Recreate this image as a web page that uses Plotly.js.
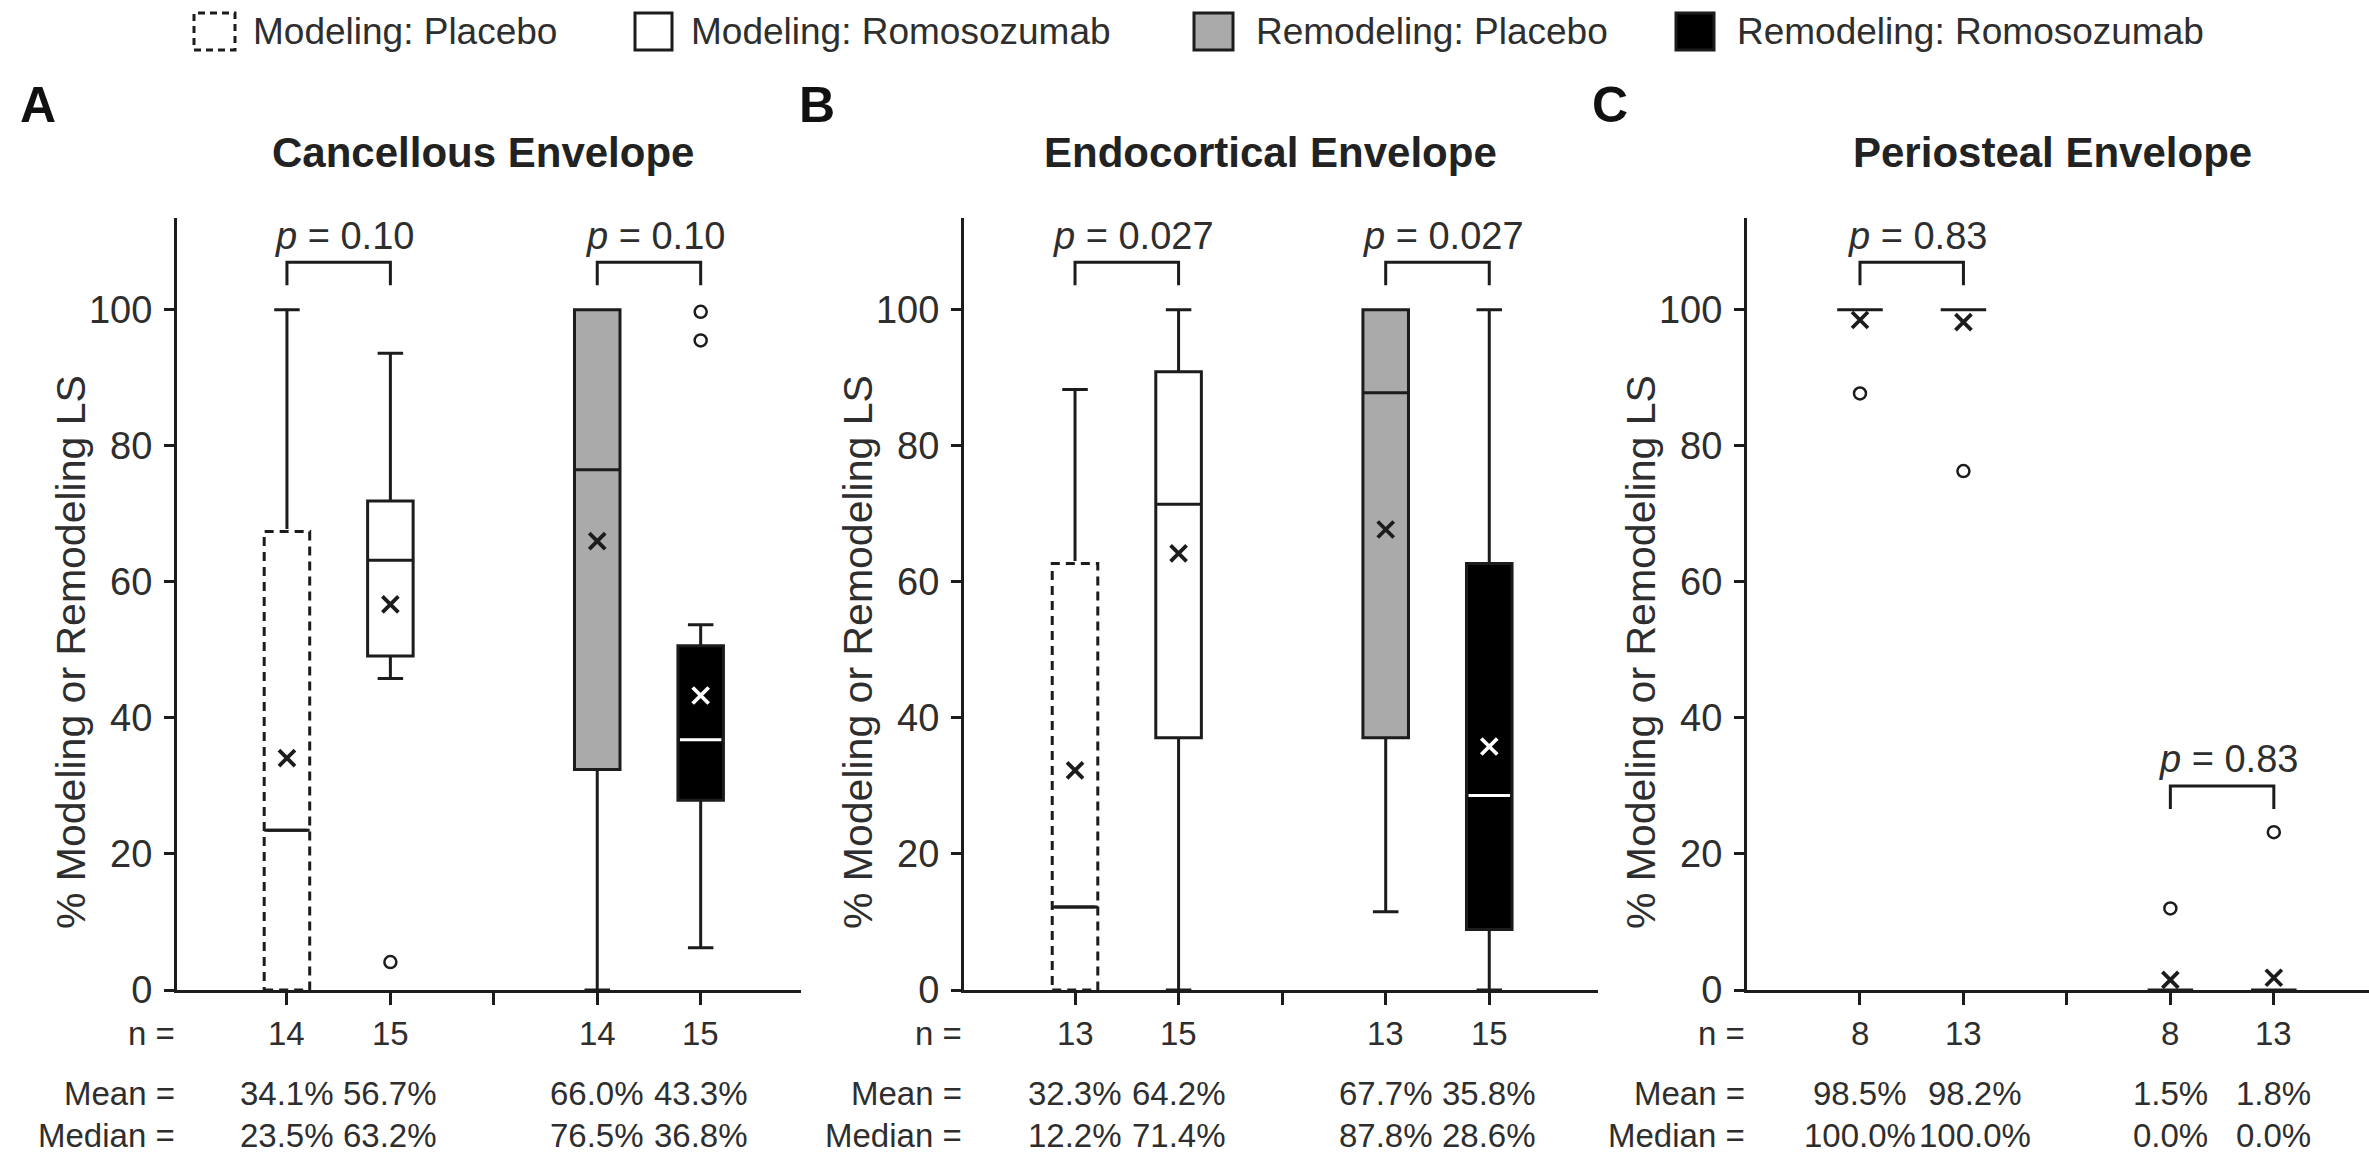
<!DOCTYPE html>
<html><head><meta charset="utf-8">
<script src="https://cdn.plot.ly/plotly-3.0.1.min.js"></script>
<style>html,body{margin:0;padding:0;background:#fff}</style>
</head><body><div id="chart" style="width:2369px;height:1155px"></div>
<script>
// ---------- DATA ----------
const positions = [1, 2, 4, 5];
const groupNames = ["Modeling: Placebo", "Modeling: Romosozumab", "Remodeling: Placebo", "Remodeling: Romosozumab"];
const panelLetters = ["A", "B", "C"];
const panelTitles = ["Cancellous Envelope", "Endocortical Envelope", "Periosteal Envelope"];
const yTickVals = [0, 20, 40, 60, 80, 100];
const yTitle = "% Modeling or Remodeling LS";
const rowLabels = ["n =", "Mean =", "Median ="];

// Panel A - Cancellous
const nA = [14, 15, 14, 15];
const meanA = [34.1, 56.7, 66.0, 43.3];
const medianA = [23.5, 63.2, 76.5, 36.8];
const q1A = [0, 49.1, 32.4, 27.9];
const q3A = [67.4, 71.9, 100, 50.6];
const lowA = [0, 45.8, 0, 6.2];
const highA = [100, 93.6, 100, 53.7];
const outliersA = [[], [4.1], [], [99.7, 95.5]];
const pValuesA = ["0.10", "0.10"];
const bracketA = [107, 107];

// Panel B - Endocortical
const nB = [13, 15, 13, 15];
const meanB = [32.3, 64.2, 67.7, 35.8];
const medianB = [12.2, 71.4, 87.8, 28.6];
const q1B = [0, 37.1, 37.1, 8.9];
const q3B = [62.7, 90.9, 100, 62.7];
const lowB = [0, 0, 11.5, 0];
const highB = [88.3, 100, 100, 100];
const outliersB = [[], [], [], []];
const pValuesB = ["0.027", "0.027"];
const bracketB = [107, 107];

// Panel C - Periosteal
const nC = [8, 13, 8, 13];
const meanC = [98.5, 98.2, 1.5, 1.8];
const medianC = [100, 100, 0, 0];
const q1C = [100, 100, 0, 0];
const q3C = [100, 100, 0, 0];
const lowC = [100, 100, 0, 0];
const highC = [100, 100, 0, 0];
const outliersC = [[87.7], [76.3], [12.0], [23.2]];
const pValuesC = ["0.83", "0.83"];
const bracketC = [107, 30];

const pairs = [[1, 2], [4, 5]];

// ---------- STYLE ----------
const W = 2369, H = 1155;
const px = v => v / W, py = v => 1 - v / H;
const FONT = "Liberation Sans, Arial, Helvetica, sans-serif";
const INK = "#1c1c1c", TXT = "#2e2e2e";
const fills = ["white", "white", "#aaaaaa", "black"];
const dashed = [true, false, false, false];
const meanColors = [INK, INK, INK, "white"];
const medianOverlay = [null, null, null, "white"];
const boxW = 0.44;
const axisPx = [[177, 801], [964, 1598], [1747, 2369]];
const xRanges = [[-0.063, 5.97], [-0.072, 6.05], [-0.092, 5.92]];
const letterPx = [18, 797, 1590];
const yRange = [0, 113.5];

const panels = [
  {n: nA, mean: meanA, median: medianA, q1: q1A, q3: q3A, low: lowA, high: highA, out: outliersA, p: pValuesA, br: bracketA},
  {n: nB, mean: meanB, median: medianB, q1: q1B, q3: q3B, low: lowB, high: highB, out: outliersB, p: pValuesB, br: bracketB},
  {n: nC, mean: meanC, median: medianC, q1: q1C, q3: q3C, low: lowC, high: highC, out: outliersC, p: pValuesC, br: bracketC}
];

const traces = [];
const annotations = [];
const shapes = [];
const layout = {
  width: W, height: H,
  margin: {l: 0, r: 0, t: 0, b: 0},
  paper_bgcolor: "white", plot_bgcolor: "white",
  showlegend: false, boxmode: "overlay",
  font: {family: FONT, color: TXT},
  annotations, shapes
};

panels.forEach((P, k) => {
  const sfx = k === 0 ? "" : String(k + 1);
  const xa = "x" + sfx, ya = "y" + sfx;
  layout["xaxis" + sfx] = {
    domain: [px(axisPx[k][0]), px(axisPx[k][1])], range: xRanges[k], anchor: ya,
    showline: true, linewidth: 3, linecolor: INK, ticks: "outside", ticklen: 12, tickwidth: 3, tickcolor: INK,
    tickvals: [1, 2, 3, 4, 5], showticklabels: false, showgrid: false, zeroline: false, fixedrange: true
  };
  layout["yaxis" + sfx] = {
    domain: [py(990), py(218)], range: yRange, anchor: xa,
    showline: true, linewidth: 3, linecolor: INK, ticks: "outside", ticklen: 10, tickwidth: 3, tickcolor: INK,
    tickvals: yTickVals, tickfont: {size: 38, color: TXT, family: FONT}, ticklabelstandoff: 4,
    showgrid: false, zeroline: false, fixedrange: true
  };

  const hasBody = positions.map((_, g) => P.q3[g] > P.q1[g]);

  positions.forEach((pos, g) => {
    traces.push({
      type: "box", name: groupNames[g], x: [pos], xaxis: xa, yaxis: ya,
      q1: [P.q1[g]], median: [P.median[g]], q3: [P.q3[g]],
      lowerfence: [P.low[g]], upperfence: [P.high[g]],
      width: boxW, whiskerwidth: 0.56, boxpoints: false,
      fillcolor: fills[g], line: {color: INK, width: 3}, hoverinfo: "skip"
    });
    if (dashed[g] && hasBody[g]) {
      const bx = [pos - boxW / 2, pos + boxW / 2, pos + boxW / 2, pos - boxW / 2, pos - boxW / 2];
      const by = [P.q1[g], P.q1[g], P.q3[g], P.q3[g], P.q1[g]];
      traces.push({type: "scatter", mode: "lines", x: bx, y: by, xaxis: xa, yaxis: ya,
        line: {color: "white", width: 5}, hoverinfo: "skip", cliponaxis: false});
      traces.push({type: "scatter", mode: "lines", x: bx, y: by, xaxis: xa, yaxis: ya,
        line: {color: INK, width: 3, dash: "9px,6px"}, hoverinfo: "skip", cliponaxis: false});
      traces.push({type: "scatter", mode: "lines", x: [pos - boxW / 2, pos + boxW / 2], y: [P.median[g], P.median[g]],
        xaxis: xa, yaxis: ya, line: {color: INK, width: 3}, hoverinfo: "skip"});
    }
    if (medianOverlay[g] && hasBody[g]) {
      traces.push({type: "scatter", mode: "lines", x: [pos - boxW / 2 + 0.02, pos + boxW / 2 - 0.02], y: [P.median[g], P.median[g]],
        xaxis: xa, yaxis: ya, line: {color: medianOverlay[g], width: 3}, hoverinfo: "skip"});
    }
    if (P.out[g].length) {
      traces.push({type: "scatter", mode: "markers", x: P.out[g].map(() => pos), y: P.out[g], xaxis: xa, yaxis: ya,
        marker: {symbol: "circle-open", size: 12, color: INK, line: {width: 2.5, color: INK}}, hoverinfo: "skip", cliponaxis: false});
    }
  });

  // mean markers
  const mc = positions.map((_, g) => hasBody[g] ? meanColors[g] : INK);
  traces.push({type: "scatter", mode: "markers", x: positions, y: P.mean, xaxis: xa, yaxis: ya,
    marker: {symbol: "x-thin", size: 16, color: mc, line: {width: 3.8, color: mc}},
    hoverinfo: "skip", cliponaxis: false});

  // significance brackets
  pairs.forEach((pr, j) => {
    const lv = P.br[j];
    traces.push({type: "scatter", mode: "lines", x: [pr[0], pr[0], pr[1], pr[1]], y: [lv - 3.4, lv, lv, lv - 3.4],
      xaxis: xa, yaxis: ya, line: {color: INK, width: 3}, hoverinfo: "skip", cliponaxis: false});
    annotations.push({xref: xa, yref: ya, x: (pr[0] + pr[1]) / 2 + 0.06, y: lv + 3.9, showarrow: false,
      xanchor: "center", yanchor: "middle", text: "<i>p</i> = " + P.p[j], font: {size: 38, color: TXT, family: FONT}});
  });

  // panel letter, title, y title
  annotations.push({xref: "paper", yref: "paper", x: px(letterPx[k]), y: py(105), showarrow: false,
    xanchor: "left", yanchor: "middle", text: "<b>" + panelLetters[k] + "</b>", font: {size: 50, color: "#111", family: FONT}});
  annotations.push({xref: "paper", yref: "paper", x: px((axisPx[k][0] + Math.min(axisPx[k][1], axisPx[k][0] + 624)) / 2 - 6), y: py(152), showarrow: false,
    xanchor: "center", yanchor: "middle", text: "<b>" + panelTitles[k] + "</b>", font: {size: 42, color: "#222", family: FONT}});
  annotations.push({xref: "paper", yref: "paper", x: px(axisPx[k][0] - 106), y: py(652), showarrow: false,
    xanchor: "center", yanchor: "middle", textangle: -90, text: yTitle, font: {size: 41, color: TXT, family: FONT}});

  // stats rows
  const rowsY = [1033, 1093, 1135];
  rowLabels.forEach((lab, r) => {
    annotations.push({xref: "paper", yref: "paper", x: px(axisPx[k][0]), y: py(rowsY[r]), showarrow: false,
      xanchor: "right", yanchor: "middle", text: lab, font: {size: 33, color: TXT, family: FONT}});
  });
  positions.forEach((pos, g) => {
    const shift = (k === 2 && g === 1) ? 12 : 0;
    annotations.push({xref: xa, yref: "paper", x: pos, y: py(rowsY[0]), showarrow: false,
      xanchor: "center", yanchor: "middle", text: String(P.n[g]), font: {size: 33, color: TXT, family: FONT}});
    annotations.push({xref: xa, yref: "paper", x: pos, xshift: shift, y: py(rowsY[1]), showarrow: false,
      xanchor: "center", yanchor: "middle", text: P.mean[g].toFixed(1) + "%", font: {size: 33, color: TXT, family: FONT}});
    annotations.push({xref: xa, yref: "paper", x: pos, xshift: shift, y: py(rowsY[2]), showarrow: false,
      xanchor: "center", yanchor: "middle", text: P.median[g].toFixed(1) + "%", font: {size: 33, color: TXT, family: FONT}});
  });
});

// ---------- LEGEND (manual) ----------
const legSwatch = [[194, 235], [635, 672], [1194, 1233], [1676, 1714]];
const legText = [251, 689, 1254, 1735];
groupNames.forEach((nm, g) => {
  shapes.push({type: "rect", xref: "paper", yref: "paper",
    x0: px(legSwatch[g][0]), x1: px(legSwatch[g][1]), y0: py(50), y1: py(13),
    fillcolor: fills[g], line: {color: INK, width: 3, dash: dashed[g] ? "7px,5px" : "solid"}});
  annotations.push({xref: "paper", yref: "paper", x: px(legText[g]), y: py(31), showarrow: false,
    xanchor: "left", yanchor: "middle", text: nm, font: {size: 37, color: TXT, family: FONT}});
});

Plotly.newPlot("chart", traces, layout, {staticPlot: true, displayModeBar: false});
</script>
</body></html>
